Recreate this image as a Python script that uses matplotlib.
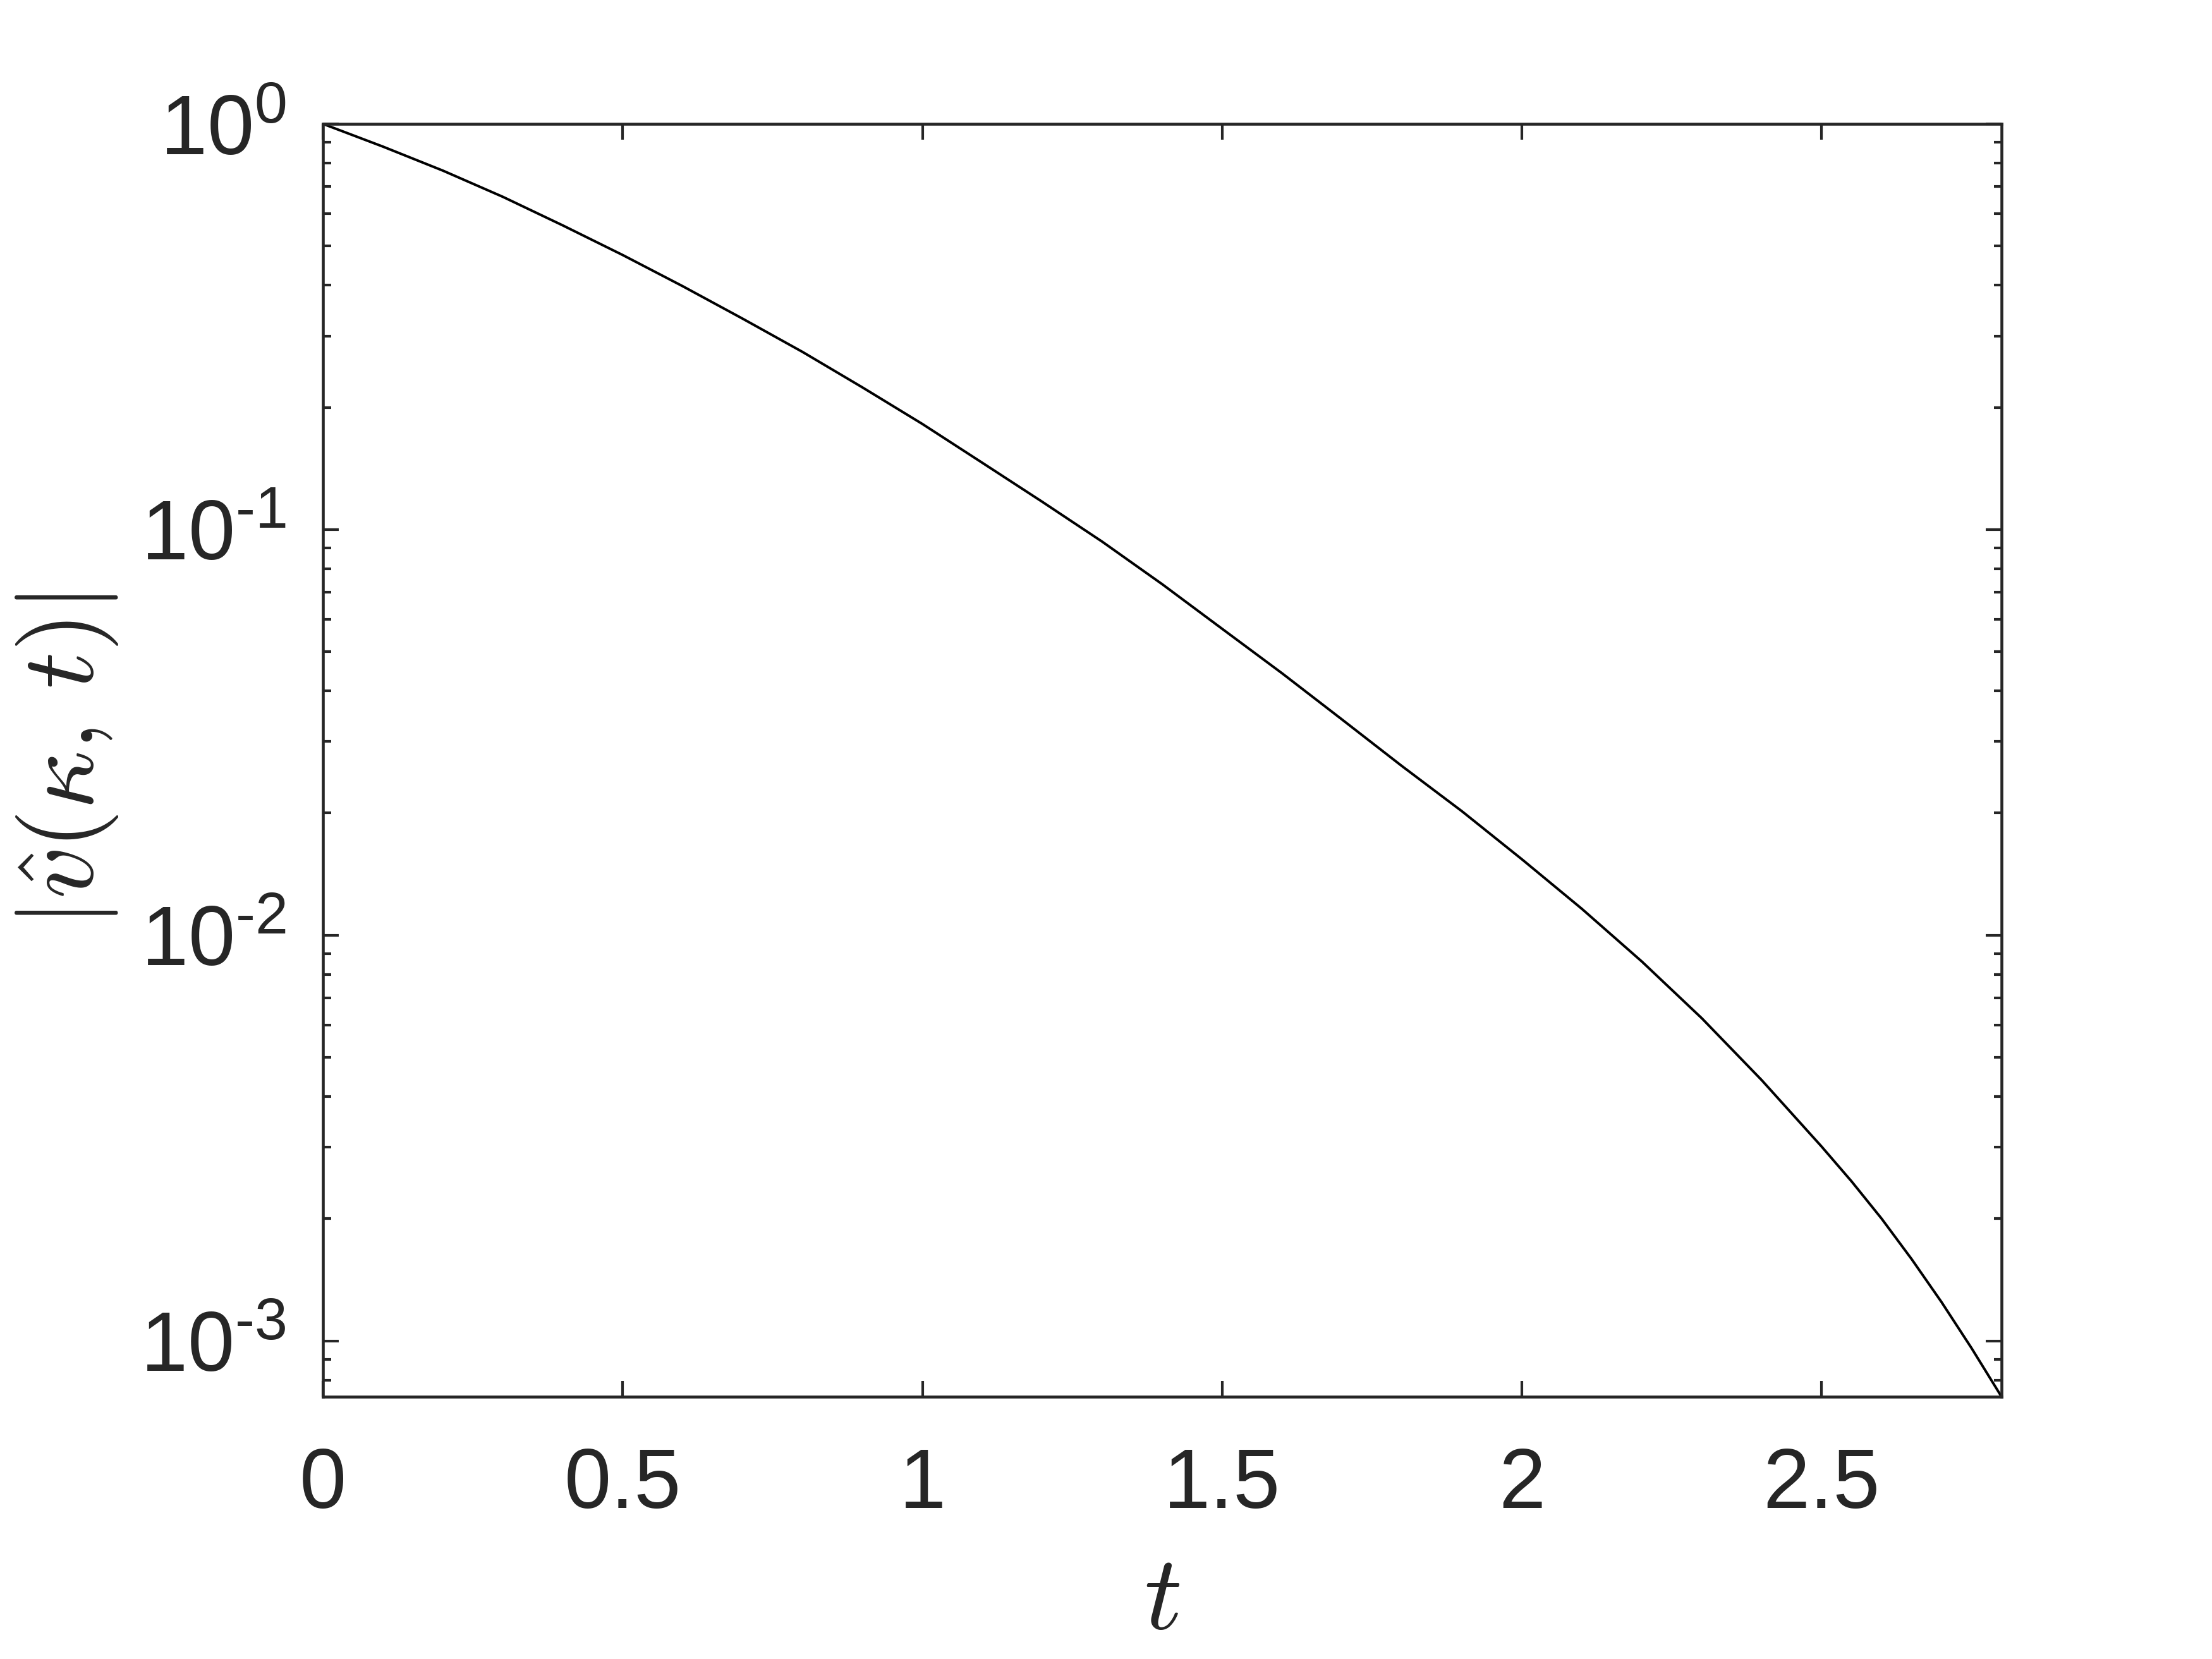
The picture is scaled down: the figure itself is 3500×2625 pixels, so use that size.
import matplotlib
matplotlib.use("Agg")
import matplotlib.pyplot as plt
from matplotlib.ticker import LogLocator, FixedLocator, FuncFormatter, NullLocator
import numpy as np

# Data
t_values = [0.0, 0.1, 0.2, 0.3, 0.4, 0.5, 0.6, 0.7, 0.8, 0.9, 1.0, 1.1, 1.2, 1.3,
            1.4, 1.5, 1.6, 1.7, 1.8, 1.9, 2.0, 2.1, 2.2, 2.3, 2.4, 2.5, 2.55, 2.6,
            2.65, 2.7, 2.75, 2.8]
v_hat_abs = [1.0, 0.879, 0.767, 0.661, 0.562, 0.475, 0.398, 0.331, 0.274, 0.224,
             0.182, 0.146, 0.117, 0.0933, 0.0733, 0.0569, 0.0442, 0.0340, 0.0261,
             0.0202, 0.01538, 0.01161, 0.00861, 0.00624, 0.00439, 0.00301, 0.00247,
             0.00200, 0.00159, 0.001245, 0.000959, 0.000728]
x_ticks = [0, 0.5, 1, 1.5, 2, 2.5]
x_tick_labels = ["0", "0.5", "1", "1.5", "2", "2.5"]
y_ticks = [1e-3, 1e-2, 1e-1, 1e0]

plt.rcParams['font.family'] = ['Liberation Sans', 'DejaVu Sans']
plt.rcParams['mathtext.fontset'] = 'cm'

dark = '#262626'
fig = plt.figure(figsize=(3500/300, 2625/300), dpi=300)
ax = fig.add_axes([511/3500, 1-2210/2625, (3167-511)/3500, (2210-196)/2625])

ax.plot(t_values, v_hat_abs, color='black', lw=0.95)
ax.set_yscale('log')
ax.set_xlim(0, 2.8)
ax.set_ylim(v_hat_abs[-1], 1.0)

ax.xaxis.set_major_locator(FixedLocator(x_ticks))
ax.set_xticklabels(x_tick_labels)
ax.xaxis.set_minor_locator(NullLocator())
ax.yaxis.set_major_locator(FixedLocator(y_ticks))
ax.yaxis.set_minor_locator(LogLocator(base=10, subs=np.arange(2, 10)))

def yfmt(v, pos):
    e = int(round(np.log10(v)))
    es = str(e).replace('-', '\u2010')
    return r'$\mathregular{10^{%s}}$' % es
ax.yaxis.set_major_formatter(FuncFormatter(yfmt))

for s in ax.spines.values():
    s.set_color(dark)
    s.set_linewidth(1.1)

ax.tick_params(which='both', direction='in', top=True, right=True, colors=dark,
               width=1.0)
ax.tick_params(which='major', length=6)
ax.tick_params(which='minor', length=3)
ax.tick_params(axis='x', which='major', labelsize=32, pad=19)
ax.tick_params(axis='y', which='major', labelsize=32, pad=14)

ax.set_xlabel(r'$t$', fontsize=40, color=dark, labelpad=10)
ax.set_ylabel(r'$\left|\hat{v}(\kappa,\,t)\right|$', fontsize=39, color=dark)
ax.yaxis.set_label_coords(-0.121, 0.5)

fig.savefig('out.png', dpi=300)
